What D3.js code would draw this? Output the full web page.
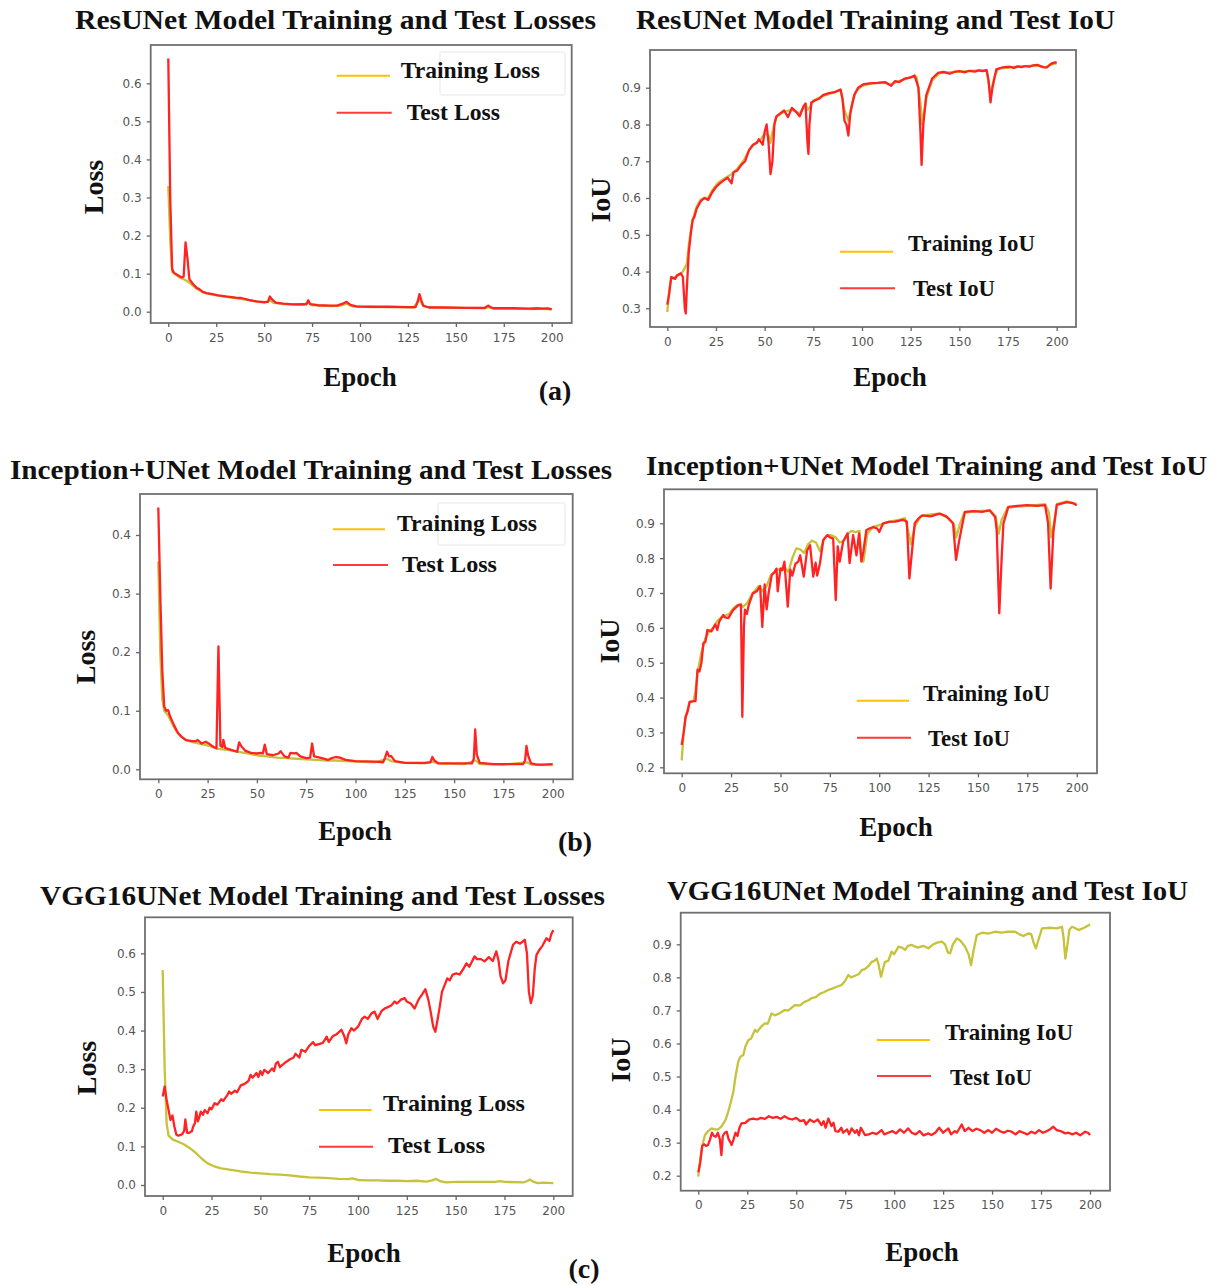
<!DOCTYPE html>
<html><head><meta charset="utf-8">
<script src="https://cdn.jsdelivr.net/npm/d3@7"></script>
<style>body{margin:0;background:#fff}svg{display:block}</style>
</head><body>
<svg id="c" width="1218" height="1285"></svg>
<script>
// ---------- DATA (epoch, value) ----------
const epochTicks = [0,25,50,75,100,125,150,175,200];
const lossTicksA = [0,0.1,0.2,0.3,0.4,0.5,0.6];
const iouTicksA = [0.3,0.4,0.5,0.6,0.7,0.8,0.9];
const lossTicksB = [0,0.1,0.2,0.3,0.4];
const iouTicksB = [0.2,0.3,0.4,0.5,0.6,0.7,0.8,0.9];
const lossTicksC = [0,0.1,0.2,0.3,0.4,0.5,0.6];
const iouTicksC = [0.2,0.3,0.4,0.5,0.6,0.7,0.8,0.9];

const resTrainLoss = [[0,0.33],[1,0.19],[2,0.105],[4,0.097],[6,0.09],[8,0.085],[10,0.08],[12,0.072],[14,0.063],[16,0.057],[18,0.051],[20,0.048],[23,0.045],[26,0.042],[30,0.039],[35,0.036],[40,0.032],[45,0.027],[50,0.024],[53,0.03],[55,0.023],[60,0.02],[65,0.019],[70,0.018],[73,0.024],[75,0.017],[80,0.016],[85,0.015],[90,0.016],[93,0.021],[96,0.014],[100,0.013],[110,0.012],[120,0.012],[128,0.011],[131,0.032],[133,0.015],[135,0.012],[145,0.01],[155,0.01],[165,0.009],[167,0.012],[169,0.009],[180,0.008],[190,0.007],[195,0.008],[200,0.006]];
const resTestLoss = [[0,0.665],[1,0.3],[2,0.112],[3,0.102],[5,0.096],[7,0.09],[8,0.092],[9,0.182],[10,0.14],[11,0.085],[13,0.072],[15,0.062],[16,0.06],[18,0.052],[20,0.049],[23,0.046],[26,0.043],[30,0.04],[35,0.037],[38,0.036],[42,0.031],[46,0.027],[50,0.025],[52,0.026],[53,0.04],[54,0.033],[56,0.024],[60,0.021],[65,0.019],[70,0.02],[72,0.019],[73,0.03],[74,0.02],[78,0.017],[84,0.016],[88,0.016],[91,0.021],[93,0.026],[95,0.018],[98,0.014],[105,0.013],[115,0.013],[125,0.012],[129,0.012],[130,0.025],[131,0.046],[132,0.03],[133,0.016],[136,0.011],[145,0.011],[155,0.01],[165,0.01],[167,0.016],[168,0.012],[170,0.009],[180,0.009],[188,0.008],[193,0.009],[196,0.008],[198,0.009],[200,0.006]];
const resTrainIoU = [[0,0.29],[1,0.35],[2,0.38],[4,0.385],[6,0.39],[8,0.4],[9,0.41],[10,0.42],[11,0.47],[12,0.51],[13,0.54],[15,0.575],[17,0.595],[19,0.6],[21,0.6],[23,0.62],[25,0.635],[27,0.645],[30,0.655],[33,0.665],[36,0.68],[39,0.7],[42,0.73],[45,0.748],[48,0.76],[50,0.775],[52,0.77],[53,0.75],[54,0.78],[56,0.82],[60,0.835],[64,0.84],[68,0.83],[71,0.855],[72,0.84],[73,0.845],[75,0.865],[80,0.878],[85,0.886],[89,0.893],[91,0.84],[93,0.81],[95,0.86],[97,0.89],[100,0.905],[105,0.912],[110,0.914],[115,0.91],[120,0.92],[125,0.928],[128,0.93],[130,0.86],[131,0.8],[133,0.87],[136,0.92],[140,0.94],[150,0.944],[160,0.947],[164,0.947],[166,0.88],[168,0.93],[170,0.952],[180,0.957],[190,0.961],[194,0.955],[197,0.963],[200,0.966]];
const resTestIoU = [[0,0.31],[1,0.34],[2,0.385],[4,0.38],[5,0.39],[7,0.395],[8,0.385],[9,0.3],[9.5,0.286],[10,0.35],[11,0.45],[12,0.5],[13,0.54],[14,0.55],[15,0.57],[17,0.59],[19,0.6],[21,0.595],[23,0.615],[25,0.63],[27,0.64],[29,0.648],[31,0.655],[33,0.64],[34,0.67],[36,0.675],[38,0.69],[40,0.7],[42,0.73],[44,0.745],[46,0.75],[47,0.76],[49,0.745],[50,0.78],[51,0.8],[52,0.75],[53,0.665],[54,0.7],[55,0.8],[56,0.822],[58,0.83],[60,0.838],[62,0.82],[64,0.845],[66,0.835],[68,0.822],[70,0.85],[71,0.857],[72,0.75],[72.5,0.72],[73,0.8],[74,0.86],[76,0.866],[78,0.87],[80,0.88],[83,0.885],[86,0.888],[89,0.895],[90,0.87],[91,0.81],[92,0.8],[93,0.77],[94,0.83],[96,0.88],[98,0.9],[101,0.91],[104,0.912],[108,0.913],[112,0.915],[115,0.905],[117,0.918],[119,0.915],[122,0.925],[125,0.928],[127,0.933],[129,0.9],[130,0.78],[130.6,0.69],[131.5,0.8],[133,0.88],[136,0.925],[139,0.94],[142,0.943],[145,0.938],[148,0.944],[150,0.945],[153,0.942],[155,0.946],[158,0.944],[160,0.947],[162,0.945],[164,0.948],[165,0.92],[166,0.86],[167,0.9],[169,0.95],[172,0.955],[176,0.957],[178,0.954],[180,0.958],[182,0.956],[184,0.959],[186,0.957],[188,0.961],[190,0.962],[193,0.956],[195,0.955],[197,0.965],[199,0.969],[200,0.968]];

const incTrainLoss = [[0,0.355],[1,0.2],[2,0.12],[3,0.1],[5,0.092],[7,0.078],[9,0.066],[11,0.057],[14,0.05],[18,0.046],[22,0.043],[26,0.04],[30,0.035],[35,0.033],[40,0.03],[45,0.027],[50,0.024],[55,0.022],[60,0.02],[65,0.019],[70,0.018],[75,0.017],[80,0.016],[85,0.015],[90,0.015],[95,0.014],[100,0.013],[110,0.012],[116,0.018],[118,0.014],[125,0.011],[135,0.01],[139,0.013],[142,0.01],[155,0.009],[161,0.015],[163,0.009],[175,0.008],[187,0.012],[189,0.008],[200,0.007]];
const incTestLoss = [[0,0.447],[1,0.3],[2,0.17],[3,0.107],[4,0.1],[5,0.101],[6,0.09],[8,0.075],[10,0.062],[12,0.055],[14,0.05],[17,0.048],[19,0.048],[20,0.05],[22,0.044],[24,0.047],[26,0.043],[28,0.038],[29.5,0.036],[30.5,0.21],[31.5,0.04],[32.5,0.038],[33,0.05],[34,0.036],[37,0.033],[40,0.03],[41,0.046],[42,0.04],[44,0.032],[47,0.028],[50,0.027],[52,0.028],[53,0.027],[54,0.042],[55,0.026],[58,0.024],[61,0.027],[62,0.031],[64,0.022],[66,0.02],[67,0.028],[69,0.027],[70,0.028],[72,0.022],[75,0.019],[77,0.02],[78,0.044],[79,0.022],[82,0.02],[86,0.016],[88,0.019],[90,0.021],[92,0.02],[95,0.016],[100,0.014],[110,0.013],[114,0.012],[115,0.02],[116,0.03],[117,0.022],[118,0.023],[120,0.014],[125,0.011],[135,0.011],[138,0.012],[139,0.021],[140,0.015],[142,0.01],[150,0.01],[159,0.01],[160,0.018],[160.7,0.068],[161.5,0.025],[163,0.011],[170,0.009],[180,0.009],[185,0.009],[186,0.015],[186.7,0.04],[187.5,0.024],[189,0.01],[192,0.008],[195,0.008],[200,0.009]];
const incTrainIoU = [[0,0.22],[1,0.3],[2,0.345],[4,0.385],[6,0.39],[7,0.42],[8,0.47],[10,0.53],[12,0.57],[14,0.59],[16,0.6],[18,0.62],[20,0.63],[22,0.635],[24,0.64],[26,0.655],[28,0.665],[30,0.667],[31,0.66],[33,0.67],[36,0.7],[39,0.72],[41,0.705],[43,0.72],[45,0.75],[48,0.765],[50,0.77],[52,0.775],[54,0.76],[56,0.8],[58,0.828],[60,0.825],[62,0.815],[64,0.84],[66,0.85],[68,0.845],[70,0.82],[72,0.855],[74,0.867],[76,0.865],[78,0.86],[80,0.845],[82,0.85],[84,0.87],[86,0.878],[88,0.875],[90,0.878],[91,0.8],[92,0.79],[94,0.87],[97,0.89],[100,0.895],[105,0.905],[110,0.91],[113,0.915],[115,0.87],[116,0.84],[118,0.89],[121,0.92],[125,0.925],[130,0.928],[135,0.915],[138,0.895],[139,0.86],[141,0.9],[143,0.93],[150,0.935],[156,0.937],[159,0.92],[160.5,0.87],[162,0.91],[165,0.945],[175,0.95],[184,0.955],[186,0.93],[187,0.86],[188.5,0.9],[190,0.955],[195,0.963],[200,0.955]];
const incTestIoU = [[0,0.264],[1,0.3],[2,0.345],[3,0.36],[4,0.388],[6,0.39],[7,0.39],[8,0.48],[9,0.475],[10,0.5],[11,0.556],[12,0.56],[13,0.594],[15,0.59],[16,0.6],[17,0.61],[18,0.594],[19,0.618],[21,0.637],[22,0.63],[23.6,0.628],[26,0.651],[28.7,0.665],[30,0.667],[30.7,0.345],[31.5,0.6],[32,0.652],[33,0.64],[34,0.667],[36,0.699],[38,0.705],[39.7,0.72],[40.8,0.603],[42,0.725],[43,0.653],[44,0.7],[45.6,0.752],[47,0.76],[48,0.77],[48.6,0.705],[50,0.77],[51,0.765],[52,0.79],[53.7,0.661],[55,0.767],[56,0.75],[57.6,0.784],[59,0.79],[60,0.808],[61.8,0.747],[63.5,0.822],[65,0.837],[66.6,0.747],[67.8,0.787],[68.6,0.75],[70,0.785],[71.7,0.852],[73.7,0.866],[75,0.86],[76.7,0.856],[78,0.68],[79,0.834],[80,0.79],[81.7,0.847],[84,0.871],[85,0.786],[86.8,0.866],[88.5,0.808],[89.8,0.871],[91,0.79],[92,0.82],[93.5,0.88],[95,0.885],[97,0.889],[99,0.885],[100,0.875],[102,0.9],[105,0.904],[108,0.905],[112,0.91],[114,0.905],[115.3,0.742],[116.4,0.808],[118,0.9],[120,0.915],[122,0.923],[126,0.92],[130.6,0.928],[134,0.92],[137.4,0.9],[138.9,0.795],[140.4,0.847],[141.5,0.88],[143.4,0.933],[148,0.935],[152,0.933],[156,0.937],[158.7,0.918],[159.5,0.88],[160.8,0.642],[162,0.8],[162.9,0.9],[165.4,0.947],[170,0.95],[175,0.952],[180,0.95],[184,0.952],[185.5,0.9],[186.8,0.713],[188.2,0.876],[189.9,0.953],[195,0.961],[198,0.958],[200,0.952]];

const vggTrainLoss = [[0,0.557],[1,0.3],[2,0.16],[3,0.128],[5,0.118],[8,0.112],[11,0.105],[14,0.095],[17,0.083],[20,0.068],[23,0.056],[26,0.049],[30,0.043],[35,0.039],[40,0.035],[45,0.032],[50,0.03],[55,0.028],[60,0.027],[65,0.025],[70,0.022],[75,0.02],[80,0.019],[85,0.018],[90,0.016],[95,0.015],[97,0.017],[100,0.013],[105,0.012],[110,0.012],[115,0.011],[120,0.011],[125,0.01],[130,0.011],[135,0.009],[138,0.012],[140,0.016],[142,0.01],[145,0.007],[150,0.008],[160,0.008],[170,0.008],[173,0.01],[175,0.008],[185,0.007],[187,0.011],[188,0.014],[190,0.008],[192,0.005],[195,0.006],[200,0.005]];
const vggTestLoss = [[0,0.229],[1,0.255],[2,0.22],[3,0.194],[4,0.168],[5,0.18],[6,0.151],[7,0.13],[8,0.128],[9,0.129],[10,0.132],[11,0.14],[11.6,0.17],[12.5,0.135],[13.5,0.135],[15,0.14],[15.5,0.15],[16.5,0.16],[17.2,0.19],[18,0.165],[18.6,0.173],[19.5,0.19],[20.6,0.182],[21.5,0.194],[23,0.186],[24,0.2],[25,0.196],[26.6,0.212],[28,0.208],[30,0.222],[31,0.218],[33,0.232],[34,0.242],[35,0.236],[37,0.244],[38,0.24],[40,0.258],[42,0.262],[44,0.27],[45,0.285],[46,0.278],[48,0.29],[49,0.28],[50,0.295],[51,0.285],[52,0.298],[54,0.29],[56,0.302],[57,0.295],[58,0.315],[59,0.319],[60,0.305],[61,0.31],[63,0.318],[65,0.325],[67,0.33],[68,0.34],[70,0.33],[71,0.35],[73,0.345],[75,0.36],[77,0.37],[78,0.362],[80,0.365],[82,0.368],[84,0.384],[85,0.37],[87,0.385],[89,0.39],[91.5,0.402],[93,0.385],[94,0.367],[95,0.39],[96.6,0.406],[98,0.4],[100,0.41],[102,0.43],[103.4,0.436],[105,0.43],[107,0.445],[108.5,0.449],[110,0.43],[112,0.45],[113.6,0.457],[115,0.46],[117,0.465],[118.8,0.475],[120,0.47],[122,0.48],[123.9,0.484],[125,0.475],[127,0.47],[129,0.457],[131,0.48],[133,0.495],[134.5,0.507],[136,0.48],[137.2,0.449],[138.5,0.41],[139.6,0.397],[140.8,0.43],[141.8,0.46],[143,0.5],[145.7,0.535],[147,0.53],[148.5,0.545],[150.3,0.548],[152,0.545],[154,0.56],[155.5,0.574],[157,0.565],[159.7,0.592],[161,0.585],[163,0.585],[164.8,0.579],[167,0.59],[169,0.58],[170.8,0.605],[172,0.58],[173,0.54],[174.3,0.522],[175.5,0.53],[177,0.58],[179.4,0.622],[181,0.63],[183,0.625],[185.4,0.635],[186.5,0.6],[187.5,0.5],[188.5,0.471],[189.5,0.49],[190.5,0.56],[191.4,0.596],[193,0.61],[194.5,0.62],[196.5,0.639],[198,0.632],[199,0.65],[200,0.66]];
const vggTrainIoU = [[0,0.197],[1,0.25],[2,0.29],[3.4,0.323],[5,0.335],[6.8,0.343],[8,0.34],[10.2,0.34],[12,0.35],[14,0.37],[15.3,0.394],[16.5,0.42],[17.9,0.454],[19,0.5],[20.4,0.545],[21.5,0.56],[23,0.565],[24,0.59],[25.5,0.61],[27,0.615],[28.9,0.641],[30,0.635],[32,0.65],[34,0.661],[35.5,0.66],[37.4,0.691],[39,0.685],[41,0.69],[44.2,0.701],[46,0.7],[49.3,0.716],[52,0.715],[54,0.725],[56,0.73],[57.8,0.737],[60,0.74],[62,0.75],[64,0.755],[66.4,0.762],[68,0.765],[70,0.77],[73.2,0.777],[75,0.79],[76.6,0.807],[78,0.8],[80,0.805],[82,0.81],[83.4,0.822],[85,0.825],[87,0.835],[88.5,0.847],[90,0.85],[91.1,0.857],[92,0.84],[93.3,0.802],[94.5,0.83],[95.3,0.847],[97,0.85],[98.7,0.878],[100,0.87],[102.2,0.893],[104,0.89],[105.6,0.883],[107,0.895],[109,0.898],[112,0.89],[115,0.895],[117.5,0.888],[120,0.9],[122,0.905],[124.3,0.908],[126,0.9],[127.5,0.875],[128.6,0.873],[130,0.9],[132,0.918],[134,0.91],[136.2,0.893],[138,0.87],[139.3,0.837],[140.5,0.88],[142.2,0.928],[145,0.935],[148,0.932],[151.6,0.938],[155,0.935],[158,0.938],[161.8,0.938],[164,0.93],[166,0.925],[168.6,0.933],[170,0.93],[171.5,0.9],[172.4,0.888],[173.5,0.91],[175.5,0.948],[180,0.95],[183,0.948],[185.7,0.953],[186.5,0.92],[187.4,0.857],[188.5,0.9],[189.5,0.945],[190.8,0.953],[192,0.95],[194.2,0.943],[197,0.95],[200,0.96]];
const vggTestIoU = [[0,0.21],[1,0.24],[2,0.29],[3,0.295],[4,0.29],[5,0.293],[6,0.31],[7,0.33],[8,0.32],[9,0.318],[10,0.33],[11,0.31],[11.8,0.262],[12.5,0.32],[13.5,0.33],[14.5,0.333],[15.5,0.31],[16.5,0.3],[17,0.293],[18,0.31],[19,0.33],[20,0.32],[21,0.345],[22,0.358],[24,0.36],[26,0.37],[28,0.373],[30,0.37],[32,0.375],[34,0.372],[36,0.38],[38,0.375],[40,0.378],[42,0.372],[44,0.38],[46,0.373],[48,0.37],[50,0.375],[52,0.365],[54,0.368],[55,0.355],[57,0.37],[59,0.362],[61,0.37],[62.9,0.353],[64,0.365],[65,0.345],[66.4,0.373],[68,0.35],[69,0.36],[70,0.335],[71.5,0.333],[73,0.345],[74,0.33],[76,0.34],[77,0.325],[78.3,0.343],[80,0.33],[81,0.338],[82,0.322],[83,0.345],[85.1,0.323],[87,0.325],[89,0.33],[91,0.326],[93.6,0.338],[95,0.325],[97,0.33],[99,0.335],[101,0.328],[103,0.34],[105,0.33],[107.2,0.343],[109,0.33],[111,0.325],[113,0.335],[115,0.322],[117.5,0.328],[119,0.323],[121,0.33],[123,0.345],[125,0.33],[127.7,0.343],[129,0.325],[131,0.335],[132,0.33],[134.5,0.355],[136,0.335],[138,0.345],[140,0.335],[142,0.342],[144,0.338],[146,0.33],[148.1,0.338],[150,0.33],[152,0.342],[154,0.335],[156,0.33],[158,0.336],[160,0.333],[162,0.325],[164,0.335],[166,0.33],[168,0.325],[170,0.333],[172,0.328],[174,0.338],[176,0.33],[178,0.335],[179.5,0.34],[181.3,0.348],[183,0.338],[185,0.335],[187.3,0.328],[189,0.33],[191,0.325],[193,0.33],[195,0.322],[197.5,0.333],[199,0.33],[200,0.323]];

const titles = ["ResUNet Model Training and Test Losses","ResUNet Model Training and Test IoU",
  "Inception+UNet Model Training and Test Losses","Inception+UNet Model Training and Test IoU",
  "VGG16UNet Model Training and Test Losses","VGG16UNet Model Training and Test IoU"];

// ---------- LAYOUT ----------
const panels = [
 {title:titles[0], tp:[75,29,521], frame:[150.7,45,571.7,323], xr:[168.3,551.7], yd:[0,0.6], yr:[311.7,83.3], yt:lossTicksA,
  tr:resTrainLoss, te:resTestLoss, yl:"Loss", ylp:[93,187], xlp:[360,377],
  leg:{l1:[336.7,390,75.7], t1:[400.7,540,70,"Training Loss"], l2:[336.7,391.7,112.7], t2:[406.7,500,111.7,"Test Loss"]}, box:[440,52,565,95]},
 {title:titles[1], tp:[636,29,479], frame:[650,50,1076,327], xr:[667.3,1056.7], yd:[0.3,0.9], yr:[308.3,87.7], yt:iouTicksA,
  tr:resTrainIoU, te:resTestIoU, yl:"IoU", ylp:[600,200], xlp:[890,377],
  leg:{l1:[840,893,251.7], t1:[908,1035,243.3,"Training IoU"], l2:[840,895,288.3], t2:[913,995,288.3,"Test IoU"]}},
 {title:titles[2], tp:[10,479,602], frame:[140,494,572.7,779.3], xr:[158.3,552.7], yd:[0,0.4], yr:[769.3,535], yt:lossTicksB,
  tr:incTrainLoss, te:incTestLoss, yl:"Loss", ylp:[85,657], xlp:[355,831],
  leg:{l1:[333,385,529.3], t1:[397,537,522.7,"Training Loss"], l2:[333,388,565], t2:[402,497,564,"Test Loss"]}, box:[438,503,565,545]},
 {title:titles[3], tp:[646,475,561], frame:[664,489.3,1097,773.3], xr:[681.7,1076.7], yd:[0.2,0.9], yr:[767.3,523.3], yt:iouTicksB,
  tr:incTrainIoU, te:incTestIoU, yl:"IoU", ylp:[609,641], xlp:[896,827],
  leg:{l1:[856.7,909,700.7], t1:[923,1050,693.3,"Training IoU"], l2:[857,911,737.7], t2:[928,1010,738.3,"Test IoU"]}},
 {title:titles[4], tp:[40,905,565], frame:[145,917.3,572.7,1196], xr:[162.7,553.3], yd:[0,0.6], yr:[1185,953.3], yt:lossTicksC,
  tr:vggTrainLoss, te:vggTestLoss, yl:"Loss", ylp:[86,1068], xlp:[364,1253],
  leg:{l1:[319,371.7,1110], t1:[383,525,1103.3,"Training Loss"], l2:[319,373,1146.7], t2:[388,485,1145,"Test Loss"]}},
 {title:titles[5], tp:[667,900,521], frame:[680.7,912.7,1110,1190.7], xr:[698.3,1090], yd:[0.2,0.9], yr:[1175.7,944.3], yt:iouTicksC,
  tr:vggTrainIoU, te:vggTestIoU, yl:"IoU", ylp:[620,1060], xlp:[922,1252],
  leg:{l1:[876.7,930,1040], t1:[945,1073,1031.7,"Training IoU"], l2:[877,931,1076], t2:[950,1032,1076.7,"Test IoU"]}}
];
const tags = [["(a)",555,390],["(b)",575,841],["(c)",584,1268]];

const SERIF = "'Liberation Serif','Times New Roman',serif";
const TRAIN_C = "#c6c23a", TEST_C = "#ff2323", LEG_Y = "#ffc000", LEG_R = "#ff3a3a";
const svg = d3.select("#c");

panels.forEach(p => {
  const g = svg.append("g");
  const [fx0, fy0, fx1, fy1] = p.frame;
  const x = d3.scaleLinear().domain([0,200]).range(p.xr);
  const y = d3.scaleLinear().domain(p.yd).range(p.yr);

  g.append("text").attr("x", p.tp[0]).attr("y", p.tp[1]).attr("textLength", p.tp[2])
    .attr("lengthAdjust","spacingAndGlyphs").attr("font-family", SERIF).attr("font-weight","bold")
    .attr("font-size", 27).attr("fill","#111").text(p.title);

  if (p.box) g.append("rect").attr("x",p.box[0]).attr("y",p.box[1]).attr("width",p.box[2]-p.box[0])
    .attr("height",p.box[3]-p.box[1]).attr("fill","none").attr("stroke","#f0f0f0").attr("stroke-width",1.5).attr("rx",2);

  const line = d3.line().x(d => x(d[0])).y(d => y(d[1])).curve(d3.curveLinear);
  g.append("path").datum(p.tr).attr("d", line).attr("fill","none").attr("stroke", TRAIN_C)
    .attr("stroke-width", 2.3).attr("stroke-linejoin","round");
  g.append("path").datum(p.te).attr("d", line).attr("fill","none").attr("stroke", TEST_C)
    .attr("stroke-width", 2.3).attr("stroke-linejoin","round");

  g.append("rect").attr("x",fx0).attr("y",fy0).attr("width",fx1-fx0).attr("height",fy1-fy0)
    .attr("fill","none").attr("stroke","#707070").attr("stroke-width",1.8);

  const xa = g.append("g").attr("transform",`translate(0,${fy1})`)
    .call(d3.axisBottom(x).tickValues(epochTicks).tickFormat(d3.format("d")).tickSize(4).tickPadding(6));
  const ya = g.append("g").attr("transform",`translate(${fx0},0)`)
    .call(d3.axisLeft(y).tickValues(p.yt).tickFormat(d3.format(".1f")).tickSize(4).tickPadding(5));
  [xa, ya].forEach(a => {
    a.select(".domain").remove();
    a.selectAll(".tick line").attr("stroke","#666").attr("stroke-width",1.3);
    a.selectAll(".tick text").attr("fill","#555").attr("font-family","'DejaVu Sans',sans-serif").attr("font-size",12);
  });

  g.append("text").attr("transform",`translate(${p.ylp[0]},${p.ylp[1]}) rotate(-90)`)
    .attr("text-anchor","middle").attr("dominant-baseline","central")
    .attr("font-family",SERIF).attr("font-weight","bold").attr("font-size",28).attr("fill","#111").text(p.yl);
  g.append("text").attr("x",p.xlp[0]).attr("y",p.xlp[1]).attr("text-anchor","middle").attr("dominant-baseline","central")
    .attr("font-family",SERIF).attr("font-weight","bold").attr("font-size",27).attr("fill","#111").text("Epoch");

  const L = p.leg;
  g.append("line").attr("x1",L.l1[0]).attr("x2",L.l1[1]).attr("y1",L.l1[2]).attr("y2",L.l1[2]).attr("stroke",LEG_Y).attr("stroke-width",2);
  g.append("line").attr("x1",L.l2[0]).attr("x2",L.l2[1]).attr("y1",L.l2[2]).attr("y2",L.l2[2]).attr("stroke",LEG_R).attr("stroke-width",2);
  [L.t1, L.t2].forEach(t => {
    g.append("text").attr("x",t[0]).attr("y",t[2]).attr("dominant-baseline","central")
      .attr("textLength", t[1]-t[0]).attr("lengthAdjust","spacingAndGlyphs")
      .attr("font-family",SERIF).attr("font-weight","bold").attr("font-size",24).attr("fill","#111").text(t[3]);
  });
});

tags.forEach(t => {
  svg.append("text").attr("x",t[1]).attr("y",t[2]).attr("text-anchor","middle").attr("dominant-baseline","central")
    .attr("font-family",SERIF).attr("font-weight","bold").attr("font-size",28).attr("fill","#111").text(t[0]);
});
</script>
</body></html>
